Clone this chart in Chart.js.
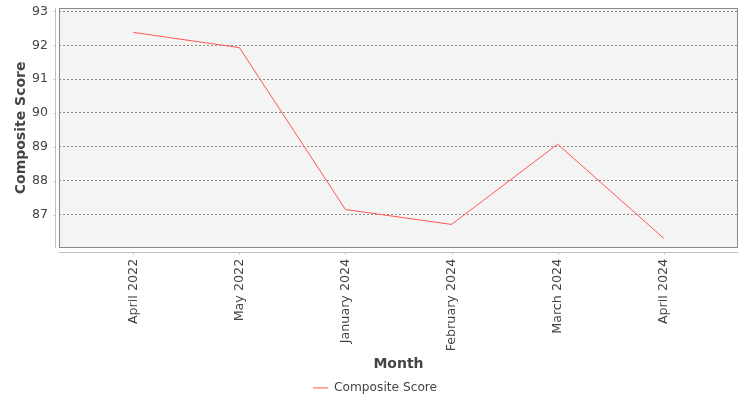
<!DOCTYPE html>
<html>
<head>
<meta charset="utf-8">
<script src="https://cdn.jsdelivr.net/npm/chart.js@4/dist/chart.umd.min.js"></script>
<style>
  html, body { margin: 0; padding: 0; background: #ffffff; }
  #wrap { width: 750px; height: 400px; position: relative; }
</style>
</head>
<body>
<div id="wrap"><canvas id="c" width="750" height="400"></canvas></div>
<script>
const categories = ['April 2022', 'May 2022', 'January 2024', 'February 2024', 'March 2024', 'April 2024'];
const compositeScore = [92.38, 91.93, 87.15, 86.71, 89.08, 86.30];
const yTickValues = [87, 88, 89, 90, 91, 92, 93];
const seriesName = 'Composite Score';
const xTitle = 'Month';
const yTitle = 'Composite Score';

const FONT = "'DejaVu Sans', sans-serif";

const plotDecor = {
  id: 'plotDecor',
  beforeDraw(chart) {
    const {ctx, chartArea: a} = chart;
    ctx.save();
    ctx.fillStyle = '#f4f4f4';
    ctx.fillRect(a.left, a.top, a.right - a.left, a.bottom - a.top);
    ctx.restore();
  },
  afterDraw(chart) {
    const {ctx, chartArea: a} = chart;
    ctx.save();
    ctx.strokeStyle = '#888888';
    ctx.lineWidth = 1;
    ctx.strokeRect(Math.round(a.left) + 0.5, Math.round(a.top) + 0.5,
                   Math.round(a.right - a.left) - 1, Math.round(a.bottom - a.top) - 1);
    ctx.strokeStyle = '#c0c0c0';
    const ax = Math.round(a.left) - 4 + 0.5;
    const ay = Math.round(a.bottom) + 4 + 0.5;
    ctx.beginPath();
    ctx.moveTo(ax, a.top); ctx.lineTo(ax, a.bottom);
    ctx.moveTo(a.left, ay); ctx.lineTo(a.right, ay);
    const ys = chart.scales.y, xs = chart.scales.x;
    ys.ticks.forEach(t => {
      const py = Math.round(ys.getPixelForValue(t.value)) + 0.5;
      ctx.moveTo(ax - 2, py); ctx.lineTo(ax, py);
    });
    xs.ticks.forEach(t => {
      const px = Math.round(xs.getPixelForValue(t.value)) + 0.5;
      ctx.moveTo(px, ay); ctx.lineTo(px, ay + 2);
    });
    ctx.stroke();
    ctx.restore();
  }
};

new Chart(document.getElementById('c'), {
  type: 'line',
  data: {
    datasets: [{
      label: seriesName,
      data: compositeScore.map((v, i) => ({x: i, y: v})),
      borderColor: '#ff5555',
      backgroundColor: '#ff5555',
      borderWidth: 1,
      pointRadius: 0,
      tension: 0,
      fill: false
    }]
  },
  options: {
    responsive: false,
    animation: false,
    devicePixelRatio: 1,
    layout: { padding: { left: 12, right: 12, top: 8, bottom: -4 } },
    plugins: {
      legend: {
        position: 'bottom',
        labels: {
          usePointStyle: true,
          pointStyle: 'line',
          pointStyleWidth: 15,
          boxHeight: 12,
          padding: 2,
          color: '#444444',
          font: { family: FONT, size: 12.2 }
        }
      },
      tooltip: { enabled: false }
    },
    scales: {
      x: {
        type: 'linear',
        min: -0.7,
        max: 5.7,
        afterBuildTicks(scale) {
          scale.ticks = categories.map((c, i) => ({value: i}));
        },
        afterFit(scale) { scale.height = 132; scale.paddingLeft = 0; scale.paddingRight = 0; },
        border: { display: false },
        grid: { display: true, drawOnChartArea: false, drawTicks: true, tickLength: 8, tickColor: 'rgba(0,0,0,0)' },
        ticks: {
          autoSkip: false,
          minRotation: 90,
          maxRotation: 90,
          padding: 3,
          color: '#444444',
          font: { family: FONT, size: 12.7 },
          callback: (v) => categories[v]
        },
        title: {
          display: true,
          text: xTitle,
          color: '#444444',
          font: { family: FONT, size: 14, weight: 'bold' },
          padding: { top: 0, bottom: 7 }
        }
      },
      y: {
        min: 86.02,
        max: 93.1,
        afterBuildTicks(scale) {
          scale.ticks = yTickValues.map(v => ({value: v}));
        },
        afterFit(scale) { scale.width = 47; scale.paddingTop = 0; scale.paddingBottom = 0; },
        border: { display: false, dash: [2, 2] },
        grid: {
          display: true,
          drawOnChartArea: true,
          drawTicks: true,
          tickLength: 8,
          tickColor: 'rgba(0,0,0,0)',
          color: '#8a8a8a',
          lineWidth: 1
        },
        ticks: {
          padding: 3,
          color: '#444444',
          font: { family: FONT, size: 12.5 },
          callback: (v) => String(v)
        },
        title: {
          display: true,
          text: yTitle,
          color: '#444444',
          font: { family: FONT, size: 14, weight: 'bold' },
          padding: { top: 1, bottom: 0 }
        }
      }
    }
  },
  plugins: [plotDecor]
});
</script>
</body>
</html>
